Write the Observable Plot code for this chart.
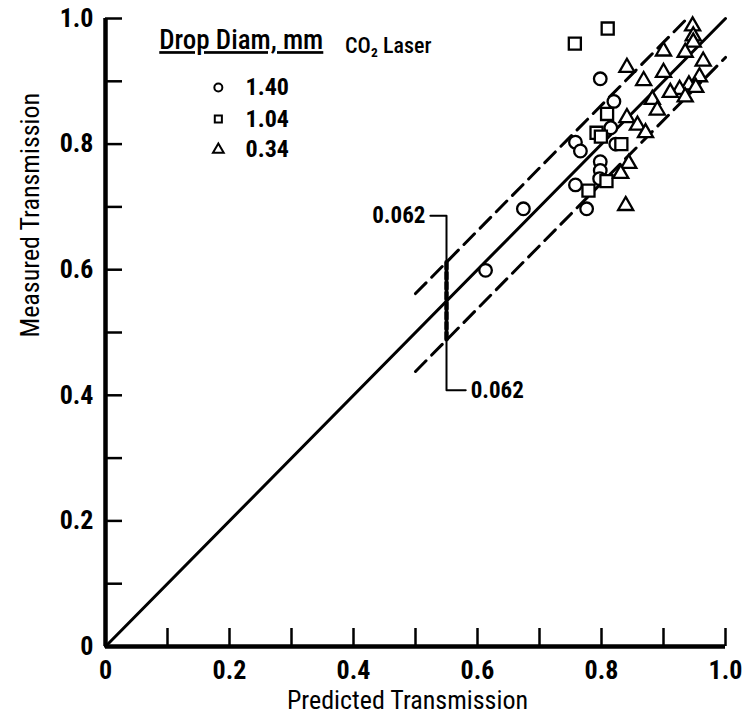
<!DOCTYPE html>
<html>
<head>
<meta charset="utf-8">
<script src="https://cdn.jsdelivr.net/npm/d3@7"></script>
<script src="https://cdn.jsdelivr.net/npm/@observablehq/plot@0.6"></script>
<style>
  html, body { margin: 0; padding: 0; background: #fff; }
  .uline text { text-decoration: underline; text-decoration-thickness: 2px; text-underline-offset: 5px; }
</style>
</head>
<body>
<div id="chart"></div>
<script>
// ---- data ----
const drop140 = [ // circles, 1.40 mm
  [0.613,0.599],[0.674,0.697],[0.798,0.904],[0.820,0.868],[0.815,0.826],[0.823,0.800],
  [0.758,0.803],[0.766,0.789],[0.798,0.772],[0.798,0.758],[0.797,0.745],[0.758,0.735],[0.776,0.697]
];
const drop104 = [ // squares, 1.04 mm
  [0.757,0.960],[0.810,0.984],[0.809,0.848],[0.792,0.818],[0.799,0.812],[0.832,0.800],
  [0.808,0.741],[0.779,0.726]
];
const drop034 = [ // triangles, 0.34 mm
  [0.947,0.988],[0.948,0.972],[0.948,0.962],[0.900,0.948],[0.935,0.946],[0.964,0.932],
  [0.841,0.922],[0.900,0.914],[0.868,0.901],[0.958,0.907],[0.941,0.894],[0.952,0.890],
  [0.926,0.887],[0.911,0.882],[0.935,0.875],[0.882,0.871],[0.890,0.854],[0.841,0.842],
  [0.858,0.830],[0.871,0.818],[0.844,0.769],[0.831,0.753],[0.839,0.702]
];
const fitLine   = [[0,0],[1,1]];
const upperBand = [[0.5,0.562],[0.938,1.0]];
const lowerBand = [[0.5,0.438],[1.0,0.938]];
const bracket   = [[0.524,0.686],[0.55,0.686],[0.55,0.408],[0.581,0.408]];
const bracketArrow = [[0.55,0.612],[0.55,0.488]];
const upperBandLabel = {x:0.516, y:0.686, t:"0.062"};
const lowerBandLabel = {x:0.589, y:0.408, t:"0.062"};
const xMinorTicks = [0.1,0.2,0.3,0.4,0.5,0.6,0.7,0.8,0.9,1.0];
const yMinorTicks = [0.1,0.2,0.3,0.4,0.5,0.6,0.7,0.8,0.9,1.0];
const majorTicks = [0,0.2,0.4,0.6,0.8,1.0];
const tickLabels = ["0","0.2","0.4","0.6","0.8","1.0"];
const legendTitle = "Drop Diam, mm";
const legendRows = [
  {sym:"circle",  label:"1.40", sx:0.182, tx:0.226, y:0.890},
  {sym:"square",  label:"1.04", sx:0.182, tx:0.226, y:0.840},
  {sym:"triangle",label:"0.34", sx:0.182, tx:0.226, y:0.791}
];
const legendHead = {x:0.219, y:0.965};
const laserLabel = {x:0.456, y:0.957, t:"CO\u2082 Laser"};

const FONT = '"Roboto Condensed", "Open Sans", sans-serif';
const fmt = d => tickLabels[majorTicks.findIndex(v => Math.abs(v - d) < 1e-9)];

const chart = Plot.plot({
  width: 749,
  height: 727,
  marginLeft: 105,
  marginRight: 24,
  marginTop: 18,
  marginBottom: 81,
  style: {fontFamily: FONT, background: "#fff", color: "#000"},
  x: {domain: [0, 1]},
  y: {domain: [0, 1]},
  marks: [
    // inward ticks
    Plot.axisX({ticks: xMinorTicks, tickSize: -18, tickFormat: () => "", label: null, strokeWidth: 2.5}),
    Plot.axisY({ticks: yMinorTicks, tickSize: -17, tickFormat: () => "", label: null, strokeWidth: 2.5}),
    // tick labels
    Plot.axisX({ticks: majorTicks, tickSize: 0, tickPadding: 14, tickFormat: fmt, label: null, fontSize: 26, fontWeight: "bold"}),
    Plot.axisY({ticks: majorTicks, tickSize: 0, tickPadding: 12, tickFormat: fmt, label: null, fontSize: 26, fontWeight: "bold"}),
    // axis lines
    Plot.ruleX([0], {strokeWidth: 4.5}),
    Plot.ruleY([0], {strokeWidth: 4.5}),
    // axis titles
    Plot.text(["Predicted Transmission"], {frameAnchor: "bottom", dy: 62, dx: -8, fontSize: 26}),
    Plot.text(["Measured Transmission"], {frameAnchor: "left", rotate: -90, dx: -75, dy: 5, fontSize: 26}),
    // lines
    Plot.line(fitLine, {x: d => d[0], y: d => d[1], strokeWidth: 3}),
    Plot.line(upperBand, {x: d => d[0], y: d => d[1], strokeWidth: 3, strokeDasharray: "15,8"}),
    Plot.line(lowerBand, {x: d => d[0], y: d => d[1], strokeWidth: 3, strokeDasharray: "15,8"}),
    // bracket annotation
    Plot.line(bracket, {x: d => d[0], y: d => d[1], strokeWidth: 2}),
    Plot.line(bracketArrow, {x: d => d[0], y: d => d[1], strokeWidth: 4.5, strokeDasharray: "7,3"}),
    Plot.text([upperBandLabel], {x: "x", y: "y", text: "t", textAnchor: "end", fontSize: 23, fontWeight: "bold"}),
    Plot.text([lowerBandLabel], {x: "x", y: "y", text: "t", textAnchor: "start", fontSize: 23, fontWeight: "bold"}),
    // data
    Plot.dot(drop140, {x: d => d[0], y: d => d[1], symbol: "circle", r: 6.3, stroke: "#000", strokeWidth: 2.3, fill: "#fff"}),
    Plot.dot(drop104, {x: d => d[0], y: d => d[1], symbol: "square", r: 6.8, stroke: "#000", strokeWidth: 2.3, fill: "#fff"}),
    Plot.dot(drop034, {x: d => d[0], y: d => d[1], symbol: "triangle", r: 5.6, stroke: "#000", strokeWidth: 2.3, fill: "#fff"}),
    // legend
    Plot.text([legendTitle], {x: () => legendHead.x, y: () => legendHead.y, fontSize: 27, fontWeight: "500", className: "uline"}),
    Plot.dot(legendRows, {x: "sx", y: "y", symbol: "sym", r: 4, stroke: "#000", strokeWidth: 2, fill: "#fff"}),
    Plot.text(legendRows, {x: "tx", y: "y", text: "label", textAnchor: "start", fontSize: 24, fontWeight: "bold"}),
    Plot.text([laserLabel], {x: "x", y: "y", text: "t", fontSize: 22, fontWeight: "500"})
  ],
  symbol: {domain: ["circle","square","triangle"], range: ["circle","square","triangle"]}
});
document.getElementById("chart").appendChild(chart);
</script>
</body>
</html>
